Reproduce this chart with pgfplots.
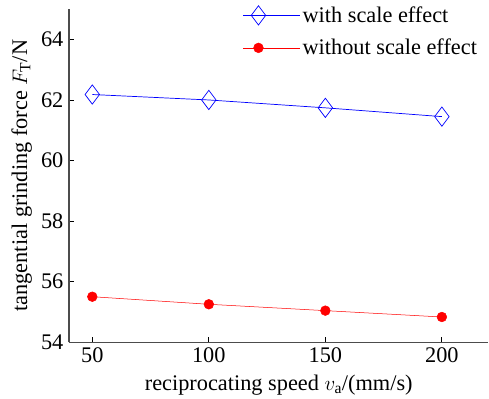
\documentclass[border=0pt]{standalone}
\usepackage{pgfplots}
\pgfplotsset{compat=1.18}
\usepackage{fontspec}
\setmainfont{Liberation Serif}
\newfontfamily\tnr{Liberation Serif}
\begin{document}
\begin{tikzpicture}
\begin{axis}[
  scale only axis,
  width=412bp, height=327bp,
  xmin=40, xmax=220, ymin=54, ymax=65,
  axis lines*=left,
  axis line style={gray!60!black, line width=1pt},
  xtick={50,100,150,200},
  ytick={54,56,58,60,62,64},
  tick align=inside,
  major tick length=5bp,
  tick style={black, line width=0.8pt},
  /pgf/number format/assume math mode=true,
  ticklabel style={font=\tnr\fontsize{22}{24}\selectfont},
  yticklabel style={xshift=-2bp},
  xticklabel style={yshift=-2bp},
  label style={font=\tnr\fontsize{22}{24}\selectfont},
  xlabel={reciprocating speed $v_{\mathrm{a}}$/(mm/s)},
  xlabel style={yshift=-5bp},
  ylabel={tangential grinding force $F_{\mathrm{T}}$/N},
  ylabel style={yshift=2bp},
  legend style={draw=none, fill=none, at={(0.985,1.02)}, anchor=north east,
    font=\tnr\fontsize{22}{24}\selectfont, row sep=11bp},
  legend cell align=left,
  legend image code/.code={\draw[#1, mark repeat=3, mark phase=2] plot coordinates {(0bp,0bp) (15bp,0bp) (56bp,0bp)};},
]
\addplot[blue, line width=0.7pt, mark=diamond, mark size=9.5pt, mark options={fill=white, line width=0.7pt}]
  coordinates {(50,62.18) (100,62.0) (150,61.74) (200,61.45)};
\addlegendentry{with scale effect}
\addplot[red, line width=0.5pt, mark=*, mark size=4.8pt, mark options={fill=red, draw=red}]
  coordinates {(50,55.5) (100,55.25) (150,55.04) (200,54.83)};
\addlegendentry{without scale effect}
\end{axis}
\path ([xshift=-8bp]current bounding box.south west) ([yshift=9bp]current axis.north);
\end{tikzpicture}
\end{document}
